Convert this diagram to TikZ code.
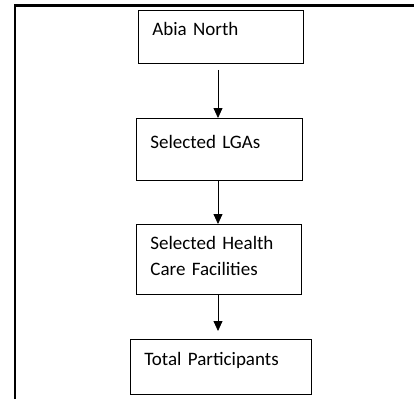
\documentclass[tikz,border=0pt]{standalone}
\usepackage{fontspec}
\setmainfont{Carlito}
\usetikzlibrary{arrows.meta}
\begin{document}
\begin{tikzpicture}[x=1pt, y=-1pt,
    stepbox/.style={draw, line width=0.8pt, anchor=north west, inner sep=0pt,
      inner xsep=14pt, align=left, font=\fontsize{19}{26}\selectfont},
    flow/.style={-{Triangle[length=10pt, width=9pt]}, line width=0.8pt}]
  \useasboundingbox (0, 0) rectangle (414, 399);
  % frame
  \draw[line width=2.2pt] (15, 399) -- (15, 5.5) -- (414, 5.5);
  \coordinate (axis) at (218, 0);
  \node[stepbox, text width=137pt, text height=25pt, text depth=28pt] (abia) at (138, 10) {Abia North};
  \node[stepbox, text width=138pt, text height=30pt, text depth=32pt] (lgas) at (136, 118) {Selected LGAs};
  \node[stepbox, text width=137pt, text height=25pt, text depth=45pt] (facilities) at (136, 224) {Selected Health\\Care Facilities};
  \node[stepbox, text width=153pt, text height=26pt, text depth=29pt] (participants) at (130, 339) {Total Participants};
  \draw[flow, shorten <=6pt] (abia.south -| axis) -- (lgas.north -| axis);
  \draw[flow] (lgas.south -| axis) -- (facilities.north -| axis);
  \draw[flow, shorten >=8pt] (facilities.south -| axis) -- (participants.north -| axis);
\end{tikzpicture}
\end{document}
